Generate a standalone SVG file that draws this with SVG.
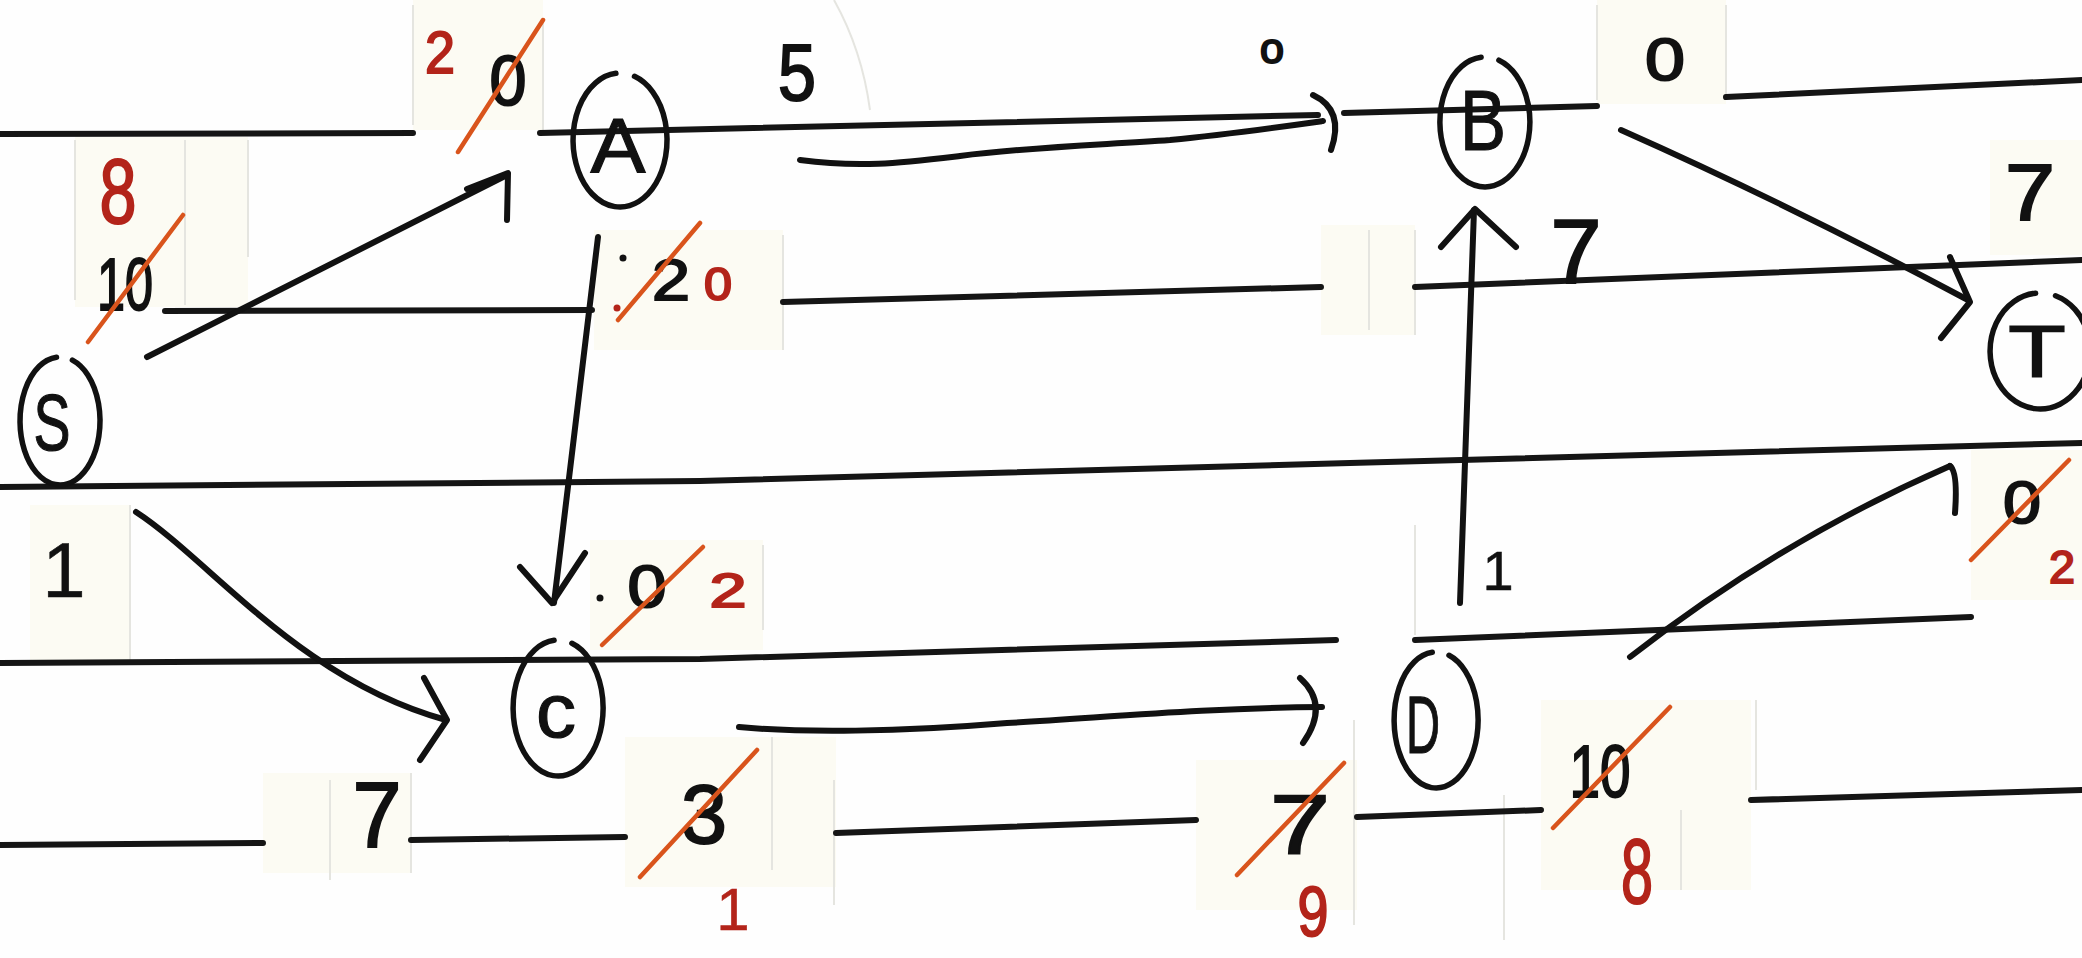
<svg xmlns="http://www.w3.org/2000/svg" width="2082" height="958" viewBox="0 0 2082 958">
<style>
.rule{stroke:#151515;stroke-width:6;fill:none;stroke-linecap:round;stroke-linejoin:round}
.ink{stroke:#111;stroke-width:6;fill:none;stroke-linecap:round;stroke-linejoin:round}
.node{stroke:#111;stroke-width:5.5;fill:none;stroke-linecap:round}
.ltr{font-family:"Liberation Sans",sans-serif;fill:#111;stroke:#111;stroke-width:1.2;text-anchor:middle}
.d{font-family:"Liberation Sans",sans-serif;fill:#111;stroke:#111;stroke-width:2;text-anchor:middle}
.r{font-family:"Liberation Sans",sans-serif;fill:#b3241a;stroke:#b3241a;stroke-width:2;text-anchor:middle}
.one{stroke-width:0.5}
.slash{stroke:#d9541c;stroke-width:4.5;stroke-linecap:round}
.patch{fill:#fcfbf3}
.edge{stroke:#e5e5e0;stroke-width:2;fill:none}
</style>
<rect width="2082" height="958" fill="#fefefe"/>

<!-- pasted paper patches behind the numbers -->
<g id="patches">
  <rect class="patch" x="75" y="137" width="173" height="170"/>
  <rect class="patch" x="413" y="0" width="130" height="130"/>
  <rect class="patch" x="594" y="230" width="189" height="120"/>
  <rect class="patch" x="1597" y="0" width="129" height="104"/>
  <rect class="patch" x="1990" y="140" width="92" height="115"/>
  <rect class="patch" x="1321" y="225" width="94" height="110"/>
  <rect class="patch" x="30" y="505" width="100" height="160"/>
  <rect class="patch" x="590" y="540" width="173" height="110"/>
  <rect class="patch" x="263" y="773" width="148" height="100"/>
  <rect class="patch" x="625" y="737" width="211" height="150"/>
  <rect class="patch" x="1196" y="760" width="161" height="150"/>
  <rect class="patch" x="1541" y="700" width="210" height="190"/>
  <rect class="patch" x="1971" y="450" width="111" height="150"/>
  <line class="edge" x1="75" y1="140" x2="75" y2="300"/>
  <line class="edge" x1="185" y1="140" x2="185" y2="305"/>
  <line class="edge" x1="248" y1="140" x2="248" y2="257"/>
  <line class="edge" x1="413" y1="5" x2="413" y2="125"/>
  <line class="edge" x1="543" y1="20" x2="543" y2="130"/>
  <line class="edge" x1="783" y1="235" x2="783" y2="350"/>
  <line class="edge" x1="1597" y1="5" x2="1597" y2="100"/>
  <line class="edge" x1="1726" y1="5" x2="1726" y2="95"/>
  <line class="edge" x1="1369" y1="230" x2="1369" y2="330"/>
  <line class="edge" x1="1415" y1="230" x2="1415" y2="335"/>
  <line class="edge" x1="130" y1="505" x2="130" y2="660"/>
  <line class="edge" x1="763" y1="545" x2="763" y2="630"/>
  <line class="edge" x1="330" y1="780" x2="330" y2="880"/>
  <line class="edge" x1="411" y1="773" x2="411" y2="873"/>
  <line class="edge" x1="772" y1="737" x2="772" y2="870"/>
  <line class="edge" x1="834" y1="780" x2="834" y2="905"/>
  <line class="edge" x1="1354" y1="720" x2="1354" y2="925"/>
  <line class="edge" x1="1504" y1="795" x2="1504" y2="940"/>
  <line class="edge" x1="1681" y1="810" x2="1681" y2="890"/>
  <line class="edge" x1="1756" y1="700" x2="1756" y2="790"/>
  <line class="edge" x1="1415" y1="525" x2="1415" y2="635"/>
  <path class="edge" d="M834,0 Q862,50 870,110"/>
</g>

<!-- ruled lines of the sheet -->
<g id="rules">
  <path class="rule" d="M0,134 L413,133"/>
  <path class="rule" d="M540,133 L1318,115"/>
  <path class="rule" d="M1344,113 L1597,106"/>
  <path class="rule" d="M1726,97 L2082,80"/>
  <path class="rule" d="M165,311 L592,310"/>
  <path class="rule" d="M783,302 L1321,287"/>
  <path class="rule" d="M1415,287 L2082,260"/>
  <path class="rule" d="M0,487 L700,481 L1350,463 L2082,443"/>
  <path class="rule" d="M0,663 L700,659 L1336,640"/>
  <path class="rule" d="M1415,640 L1971,617"/>
  <path class="rule" d="M0,845 L263,843"/>
  <path class="rule" d="M411,840 L625,837"/>
  <path class="rule" d="M836,833 L1196,820"/>
  <path class="rule" d="M1357,817 L1541,810"/>
  <path class="rule" d="M1751,800 L2082,790"/>
</g>

<!-- nodes: hand-drawn rings, left slightly open near the top where the pen started -->
<g id="node-S">
  <path class="node" d="M56.5,357.2 A40,64 0 1 0 72.4,360.1"/>
  <text class="ltr" x="52" y="450" font-size="80" textLength="37" lengthAdjust="spacingAndGlyphs">S</text>
</g>
<g id="node-A">
  <path class="node" d="M615.9,73.3 A47,67 0 1 0 634.5,76.3"/>
  <text class="ltr" x="618" y="173" font-size="78" textLength="55" lengthAdjust="spacingAndGlyphs">A</text>
</g>
<g id="node-B">
  <path class="node" d="M1481.1,57.2 A45,65 0 1 0 1498.9,60.2"/>
  <text class="ltr" x="1483" y="150" font-size="86" textLength="46" lengthAdjust="spacingAndGlyphs">B</text>
</g>
<g id="node-C">
  <path class="node" d="M554.1,640.3 A45,68 0 1 0 571.9,643.3"/>
  <text class="ltr" x="556" y="737" font-size="76" textLength="40" lengthAdjust="spacingAndGlyphs">c</text>
</g>
<g id="node-D">
  <path class="node" d="M1432.3,652.3 A42,68 0 1 0 1449.0,655.3"/>
  <text class="ltr" x="1423" y="753" font-size="82" textLength="34" lengthAdjust="spacingAndGlyphs">D</text>
</g>
<g id="node-T">
  <path class="node" d="M2035.6,293.2 A50,58 0 1 0 2055.5,295.8"/>
  <text class="ltr" x="2037" y="377" font-size="75" textLength="58" lengthAdjust="spacingAndGlyphs">T</text>
</g>

<!-- connectors -->
<g id="connectors">
  <!-- S -> A -->
  <path class="ink" d="M147,357 L507,175"/>
  <path class="ink" d="M467,189 L508,173 L507,220"/>
  <!-- S -> C -->
  <path class="ink" d="M136,512 C210,560 300,680 446,720"/>
  <path class="ink" d="M424,678 L447,720 L420,760"/>
  <!-- A -> C -->
  <path class="ink" d="M598,237 L554,603"/>
  <path class="ink" d="M520,567 L552,603 L585,553"/>
  <!-- A -> B -->
  <path class="ink" d="M800,160 C860,168 900,163 960,156 C1030,147 1100,145 1170,140 C1230,134 1280,127 1323,121"/>
  <path class="ink" d="M1313,95 Q1345,110 1331,150"/>
  <!-- B -> T -->
  <path class="ink" d="M1621,130 Q1790,205 1968,300"/>
  <path class="ink" d="M1950,257 L1970,302 L1941,338"/>
  <!-- D -> B -->
  <path class="ink" d="M1460,603 L1474,210"/>
  <path class="ink" d="M1441,247 L1475,209 L1516,247"/>
  <!-- C -> D -->
  <path class="ink" d="M739,727 C800,733 900,732 1007,723 C1100,718 1200,708 1322,707"/>
  <path class="ink" d="M1300,678 Q1330,705 1303,743"/>
  <!-- D -> T -->
  <path class="ink" d="M1630,657 Q1780,540 1950,466"/>
  <path class="ink" d="M1950,466 Q1958,472 1955,513"/>
</g>

<!-- capacities and flow values -->
<g id="labels">
  <text class="r" x="118" y="223" font-size="90" textLength="37" lengthAdjust="spacingAndGlyphs">8</text>
  <text class="d" x="125" y="310" font-size="74" textLength="56" lengthAdjust="spacingAndGlyphs">10</text>
  <line class="slash" x1="88" y1="342" x2="183" y2="215"/>

  <text class="r" x="440" y="73" font-size="60" textLength="30" lengthAdjust="spacingAndGlyphs">2</text>
  <text class="d" x="508" y="105" font-size="70" textLength="37" lengthAdjust="spacingAndGlyphs">0</text>
  <line class="slash" x1="458" y1="152" x2="543" y2="20"/>

  <text class="d" x="797" y="100" font-size="80" textLength="38" lengthAdjust="spacingAndGlyphs">5</text>
  <text class="d" x="1272" y="63" font-size="42" textLength="24" lengthAdjust="spacingAndGlyphs">o</text>
  <text class="d" x="1665" y="80" font-size="60" textLength="40" lengthAdjust="spacingAndGlyphs">0</text>
  <text class="d" x="2030" y="220" font-size="80" textLength="50" lengthAdjust="spacingAndGlyphs">7</text>
  <text class="d" x="1576" y="283" font-size="90" textLength="51" lengthAdjust="spacingAndGlyphs">7</text>

  <circle cx="623" cy="258" r="3.5" fill="#111"/>
  <circle cx="617" cy="308" r="3.5" fill="#b3241a"/>
  <text class="d" x="671" y="300" font-size="58" textLength="38" lengthAdjust="spacingAndGlyphs">2</text>
  <text class="r" x="718" y="300" font-size="46" textLength="28" lengthAdjust="spacingAndGlyphs">0</text>
  <line class="slash" x1="618" y1="320" x2="700" y2="223"/>

  <text class="d one" x="64" y="597" font-size="78">1</text>

  <circle cx="600" cy="598" r="3.5" fill="#111"/>
  <text class="d" x="647" y="607" font-size="60" textLength="39" lengthAdjust="spacingAndGlyphs">0</text>
  <text class="r" x="728" y="607" font-size="48" textLength="37" lengthAdjust="spacingAndGlyphs">2</text>
  <line class="slash" x1="602" y1="645" x2="703" y2="547"/>

  <text class="d" x="377" y="847" font-size="92" textLength="49" lengthAdjust="spacingAndGlyphs">7</text>

  <text class="d" x="704" y="843" font-size="84" textLength="46" lengthAdjust="spacingAndGlyphs">3</text>
  <line class="slash" x1="640" y1="877" x2="757" y2="750"/>
  <text class="r one" x="733" y="930" font-size="60">1</text>

  <text class="d" x="1300" y="853" font-size="84" textLength="60" lengthAdjust="spacingAndGlyphs">7</text>
  <line class="slash" x1="1237" y1="875" x2="1344" y2="763"/>
  <text class="r" x="1313" y="936" font-size="70" textLength="31" lengthAdjust="spacingAndGlyphs">9</text>

  <text class="d one" x="1498" y="590" font-size="56">1</text>

  <text class="d" x="1600" y="797" font-size="74" textLength="61" lengthAdjust="spacingAndGlyphs">10</text>
  <line class="slash" x1="1553" y1="828" x2="1670" y2="707"/>
  <text class="r" x="1637" y="903" font-size="90" textLength="32" lengthAdjust="spacingAndGlyphs">8</text>

  <text class="d" x="2022" y="523" font-size="60" textLength="38" lengthAdjust="spacingAndGlyphs">0</text>
  <line class="slash" x1="1971" y1="560" x2="2069" y2="460"/>
  <text class="r" x="2062" y="583" font-size="46" textLength="26" lengthAdjust="spacingAndGlyphs">2</text>
</g>
</svg>
